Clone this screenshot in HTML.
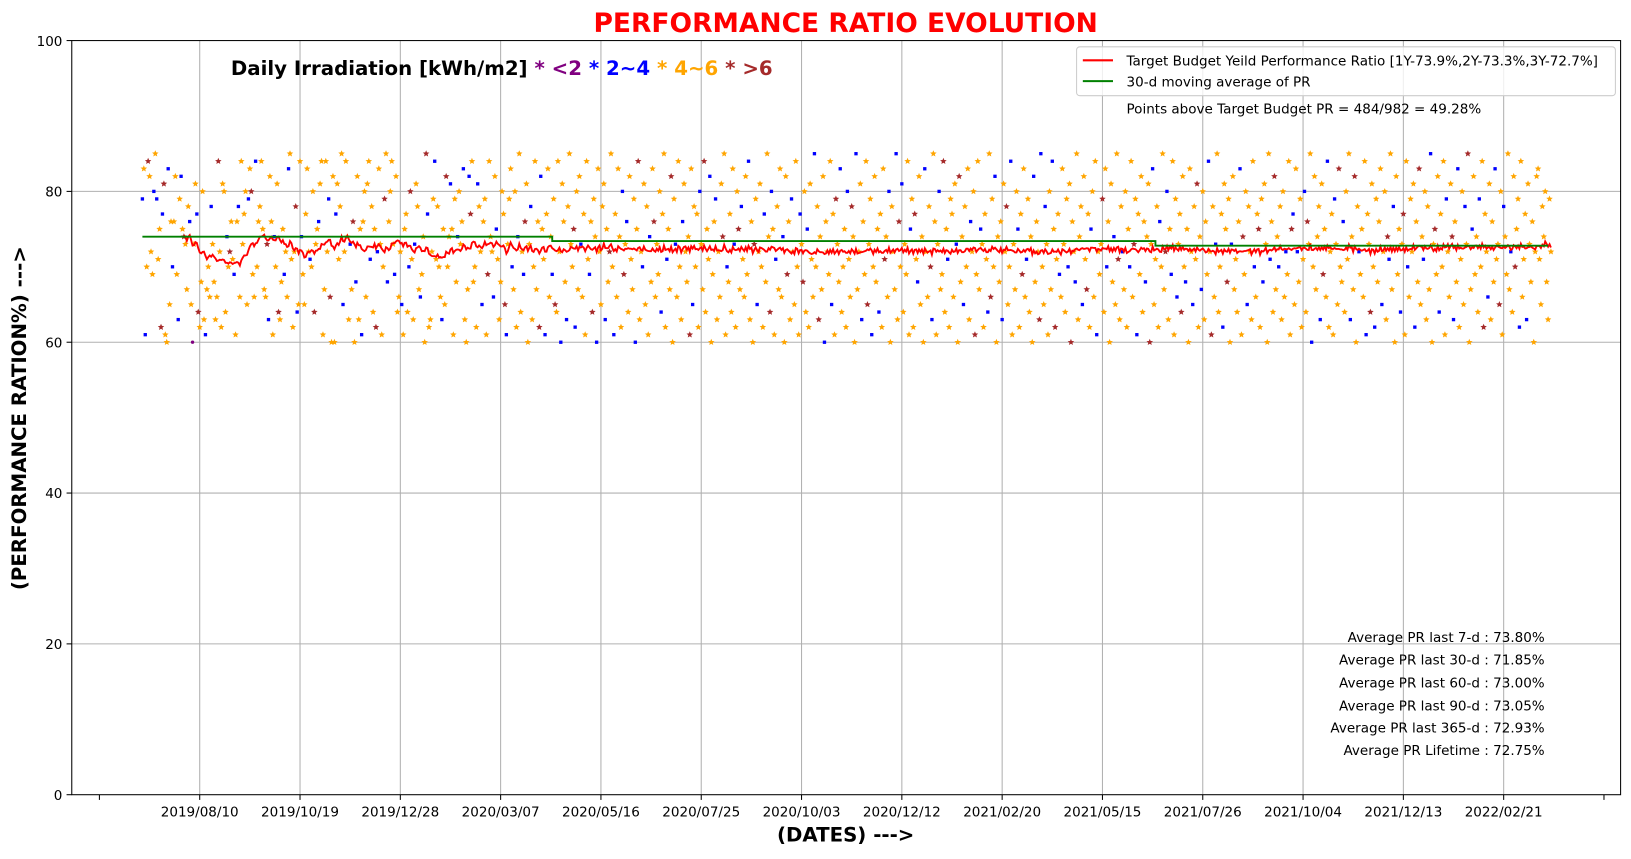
<!DOCTYPE html>
<html><head><meta charset="utf-8">
<style>
body{margin:0;background:#fff;}
svg text{font-family:"DejaVu Sans","Liberation Sans",sans-serif;}
</style></head>
<body>
<svg id="chart" width="1631" height="854" viewBox="0 0 1568 821" preserveAspectRatio="none" xmlns="http://www.w3.org/2000/svg">
<rect width="1568" height="821" fill="#fff"/>
<g id="grid"></g>
<g id="marks"></g>
<g id="lines"></g>
<rect x="69" y="39" width="1489" height="725" fill="none" stroke="#000" stroke-width="1"/>
<g id="axes"></g>
<text x="813" y="31" text-anchor="middle" font-size="25.5" font-weight="bold" fill="#ff0000">PERFORMANCE RATIO EVOLUTION</text>
<text transform="translate(25,402) rotate(-90)" text-anchor="middle" font-size="19" font-weight="bold">(PERFORMANCE RATION%) ---&gt;</text>
<text x="813" y="809" text-anchor="middle" font-size="19" font-weight="bold">(DATES) ---&gt;</text>
<text x="222" y="72" font-size="19" font-weight="bold">Daily Irradiation [kWh/m2] <tspan fill="#800080">* &lt;2</tspan> <tspan fill="#0000ff">* 2~4</tspan> <tspan fill="#ffa500">* 4~6</tspan> <tspan fill="#a52a2a">* &gt;6</tspan></text>
<g>
<rect x="1035" y="45" width="518" height="47" rx="3" fill="#fff" fill-opacity="0.8" stroke="#ccc"/>
<line x1="1041" y1="58" x2="1070" y2="58" stroke="#ff0000" stroke-width="2"/>
<text x="1083" y="63" font-size="13">Target Budget Yeild Performance Ratio [1Y-73.9%,2Y-73.3%,3Y-72.7%]</text>
<line x1="1041" y1="78" x2="1070" y2="78" stroke="#008000" stroke-width="2"/>
<text x="1083" y="83" font-size="13">30-d moving average of PR</text>
<text x="1083" y="109" font-size="13">Points above Target Budget PR = 484/982 = 49.28%</text>
</g>
<g font-size="13" text-anchor="end">
<text x="1485" y="617">Average PR last 7-d : 73.80%</text>
<text x="1485" y="639">Average PR last 30-d : 71.85%</text>
<text x="1485" y="661">Average PR last 60-d : 73.00%</text>
<text x="1485" y="683">Average PR last 90-d : 73.05%</text>
<text x="1485" y="704">Average PR last 365-d : 72.93%</text>
<text x="1485" y="726">Average PR Lifetime : 72.75%</text>
</g>
</svg>
<script>
const xTickLabels=["","2019/08/10","2019/10/19","2019/12/28","2020/03/07","2020/05/16","2020/07/25","2020/10/03","2020/12/12","2021/02/20","2021/05/15","2021/07/26","2021/10/04","2021/12/13","2022/02/21",""];
const xTickDays=[-70,0,70,140,210,280,350,420,490,560,630,700,770,840,910,980];
const yTicks=[0,20,40,60,80,100];
const startDay=-40;
const targetSteps=[[0,74.0],[286,73.4],[707,72.8],[981,72.8]];
const prText=
"79 83 61 70 84 82 72 69 80 85 79 71 75 62 77 81 61 60 83 65 "+
"76 70 76 82 69 63 79 82 75 74 73 67 78 76 65 60 73 81 77 64 "+
"62 68 80 63 61 67 70 66 78 73 68 63 66 84 72 62 81 80 64 74 "+
"70 72 76 71 69 61 76 78 66 84 73 77 80 65 79 83 80 69 66 84 "+
"70 76 78 84 75 67 66 73 63 82 76 61 74 70 81 64 63 68 75 69 "+
"72 66 83 85 71 62 72 78 64 65 84 74 69 65 77 83 72 71 70 80 "+
"64 73 75 76 81 84 61 67 84 72 79 66 60 82 60 77 81 71 78 85 "+
"65 72 84 74 63 73 67 76 60 68 82 63 75 61 76 80 66 81 84 71 "+
"78 64 75 62 72 83 73 61 70 79 85 68 76 80 84 73 69 82 64 66 "+
"72 65 61 75 77 64 70 80 71 63 73 81 78 67 66 69 74 60 85 77 "+
"62 63 72 79 84 71 78 70 66 63 75 65 82 70 74 81 75 61 79 68 "+
"74 80 73 76 83 63 60 67 82 77 84 68 70 62 81 78 72 65 76 79 "+
"61 69 84 74 72 66 82 75 71 63 68 80 77 65 61 73 79 83 70 67 "+
"80 62 74 85 64 72 69 76 81 60 73 78 63 70 84 67 76 62 82 75 "+
"71 61 77 83 66 74 69 79 65 64 84 72 60 81 76 68 63 78 85 73 "+
"70 75 62 80 67 82 73 66 77 61 84 71 69 76 64 79 74 60 83 72 "+
"65 78 81 63 75 68 72 85 70 61 77 66 83 74 62 80 69 73 76 64 "+
"82 71 67 79 60 75 84 63 72 70 81 65 78 61 74 68 83 76 66 73 "+
"69 80 64 77 85 62 71 75 67 82 60 79 73 66 84 70 63 76 81 72 "+
"68 74 61 83 65 78 70 77 62 80 73 67 84 64 75 71 82 60 69 76 "+
"79 63 72 66 81 74 85 61 70 68 77 64 83 73 62 80 75 67 78 71 "+
"66 82 69 84 63 76 60 73 79 65 72 81 70 62 77 68 85 74 64 80 "+
"75 61 71 78 67 83 66 74 60 82 69 76 63 79 72 65 84 70 61 77 "+
"73 68 80 64 75 62 81 71 66 85 70 78 63 74 67 82 60 76 72 69 "+
"84 65 77 61 79 73 68 83 64 70 75 62 80 71 66 78 74 60 85 67 "+
"72 81 63 76 69 84 65 73 79 61 70 82 68 75 64 77 62 83 71 74 "+
"66 80 60 78 72 67 85 63 76 70 81 64 73 69 84 61 75 79 62 77 "+
"71 68 82 65 74 60 83 72 66 78 70 63 85 76 61 73 80 67 69 84 "+
"64 75 71 62 79 77 66 81 73 60 82 68 74 65 78 70 83 63 76 72 "+
"80 61 69 84 67 75 73 62 77 71 64 85 66 79 70 82 60 74 68 76 "+
"63 81 72 78 65 70 84 61 73 67 80 75 62 77 69 83 66 71 79 64 "+
"74 60 82 68 76 72 63 85 70 65 78 73 61 80 67 84 75 62 71 77 "+
"69 66 83 73 64 79 70 81 60 76 72 68 85 63 74 78 65 82 71 67 "+
"77 62 75 80 66 84 61 72 69 73 79 64 83 70 76 60 81 68 74 65 "+
"85 71 63 78 72 67 80 62 75 70 84 66 73 79 61 77 69 82 64 76 "+
"68 74 81 60 73 83 65 71 78 62 76 70 85 67 72 80 63 75 69 84 "+
"61 79 66 73 77 64 82 70 68 75 60 83 72 65 78 71 81 62 74 67 "+
"80 63 76 69 84 72 61 78 66 73 85 64 70 77 62 81 75 68 79 60 "+
"73 82 67 71 64 76 83 61 74 69 80 65 78 72 63 84 70 66 77 75 "+
"62 79 68 81 73 60 85 71 76 64 82 67 74 70 78 63 80 66 72 69 "+
"84 61 75 77 65 83 72 68 79 62 71 80 64 76 73 85 60 70 82 67 "+
"74 78 63 81 69 75 66 84 62 72 77 61 79 73 65 83 70 68 76 64 "+
"80 71 85 63 74 67 82 60 78 72 69 75 66 84 61 77 73 64 81 70 "+
"62 79 68 76 83 65 72 80 63 74 71 85 67 78 60 82 69 75 64 73 "+
"77 61 84 70 66 79 72 81 62 76 68 83 65 74 71 80 63 78 67 85 "+
"60 73 75 69 82 64 77 70 84 61 79 72 66 81 74 63 76 68 83 62 "+
"71 80 65 78 73 85 60 67 75 82 69 74 64 79 70 84 62 77 72 66 "+
"81 63 76 68 83 71 73 65 80 61 78 74 69 85 67 72 64 82 70 75 "+
"79 62 84 66 71 77 63 81 73 68 76 60 72 82 83 71 65 78 74 80 "+
"68 63 79 72 ";
const irrText=
"1212322212122313221221222121232221202213222212221222232222212322122122222212322122"+
"2222231222122322212212222312212222212232212222221322212222122221232122212222212223"+
"1222232122221222212222132212221222312222122221223221222212221222132222122122232221"+
"2122222312221222122213222122222312212222123222122212222312221222221232212222212232"+
"2122222132122222123221222212232222122212232212222122223212222122322212221222232212"+
"2221223212222122232122221222312212222122322122222123221222212232221222212232212222"+
"1223221222122232212222122232212222123212222212232122221222312222122322122222123221"+
"2222122322212222123221222212232212222122322122221222312212222123221222221232212222"+
"1223221222122232212222122322122221223212222212232122221222312212221223221222212232"+
"2122221232212222122322122222123221222212232212222122322122221222312212222123221222"+
"2212322122221223221222212232212222122322122221222312212222123221222212232212222122"+
"3221222212223122122221232212222122322122221223221222212232212222122";
const prValues=prText.trim().split(/\s+/).map(Number);
const irrCat=irrText.split('').map(Number);
const catColors=["#800080","#0000ff","#ffa500","#a52a2a"];

const NS="http://www.w3.org/2000/svg";
const X0=192, PXD=96.43/70;
const xOf=d=>X0+d*PXD;
const yOf=v=>764-v*7.25;
function mk(tag,attrs,parent){const e=document.createElementNS(NS,tag);for(const k in attrs)e.setAttribute(k,attrs[k]);parent.appendChild(e);return e;}
const grid=document.getElementById('grid'),axes=document.getElementById('axes'),marks=document.getElementById('marks'),lines=document.getElementById('lines');

xTickDays.forEach((d,i)=>{
  const x=xOf(d);
  if(i>0&&i<xTickDays.length-1){const g=mk('line',{x1:x,y1:39,x2:x,y2:764,stroke:'#b0b0b0','stroke-width':1},grid);
  
  }
  const t=mk('line',{x1:x,y1:764,x2:x,y2:769,stroke:'#000'},axes);
  
  
  if(xTickLabels[i]){const l=mk('text',{x:x,y:785,'text-anchor':'middle','font-size':13},axes);l.textContent=xTickLabels[i];
  
  }
});
yTicks.forEach(v=>{
  const y=yOf(v);
  if(v>0&&v<100){const g=mk('line',{x1:69,y1:y,x2:1558,y2:y,stroke:'#b0b0b0','stroke-width':1},grid);
  
  }
  const t=mk('line',{x1:64,y1:y,x2:69,y2:y,stroke:'#000'},axes);
  
  
  const l=mk('text',{x:60,y:y+5,'text-anchor':'end','font-size':13},axes);l.textContent=v;
  
  
});
function star(cx,cy,r){let p=[];for(let k=0;k<10;k++){const a=-Math.PI/2+k*Math.PI/5;const rr=k%2?r*0.45:r;p.push((cx+rr*Math.cos(a)).toFixed(1)+','+(cy+rr*Math.sin(a)).toFixed(1));}return p.join(' ');}
prValues.forEach((v,i)=>{
  const c=irrCat[i]!==undefined?irrCat[i]:2;
  const x=xOf(startDay+i),y=yOf(v);
  let e;
  if(c===1){e=mk('rect',{x:x-1.6,y:y-1.6,width:3.2,height:3.2,fill:catColors[c]},marks);}
  else if(c===0){e=mk('circle',{cx:x,cy:y,r:1.6,fill:catColors[c]},marks);}
  else {e=mk('polygon',{points:star(x,y,3.3),fill:catColors[c]},marks);}
  
  
});
let ma=[];
for(let i=29;i<prValues.length;i++){let s=0;for(let j=i-29;j<=i;j++)s+=prValues[j];ma.push([startDay+i,s/30]);}
const maPath=mk('path',{d:ma.map((p,k)=>(k?'L':'M')+xOf(p[0]).toFixed(1)+','+yOf(p[1]).toFixed(1)).join(''),fill:'none',stroke:'#ff0000','stroke-width':1.8},lines);


let td='';
for(let k=0;k<targetSteps.length-1;k++){const [d0,v]=targetSteps[k];const d1=targetSteps[k+1][0];td+=(k?'L':'M')+xOf(startDay+d0).toFixed(1)+','+yOf(v).toFixed(1)+'L'+xOf(startDay+d1).toFixed(1)+','+yOf(v).toFixed(1);}
const tp=mk('path',{d:td,fill:'none',stroke:'#008000','stroke-width':1.8},lines);


</script>
</body></html>
